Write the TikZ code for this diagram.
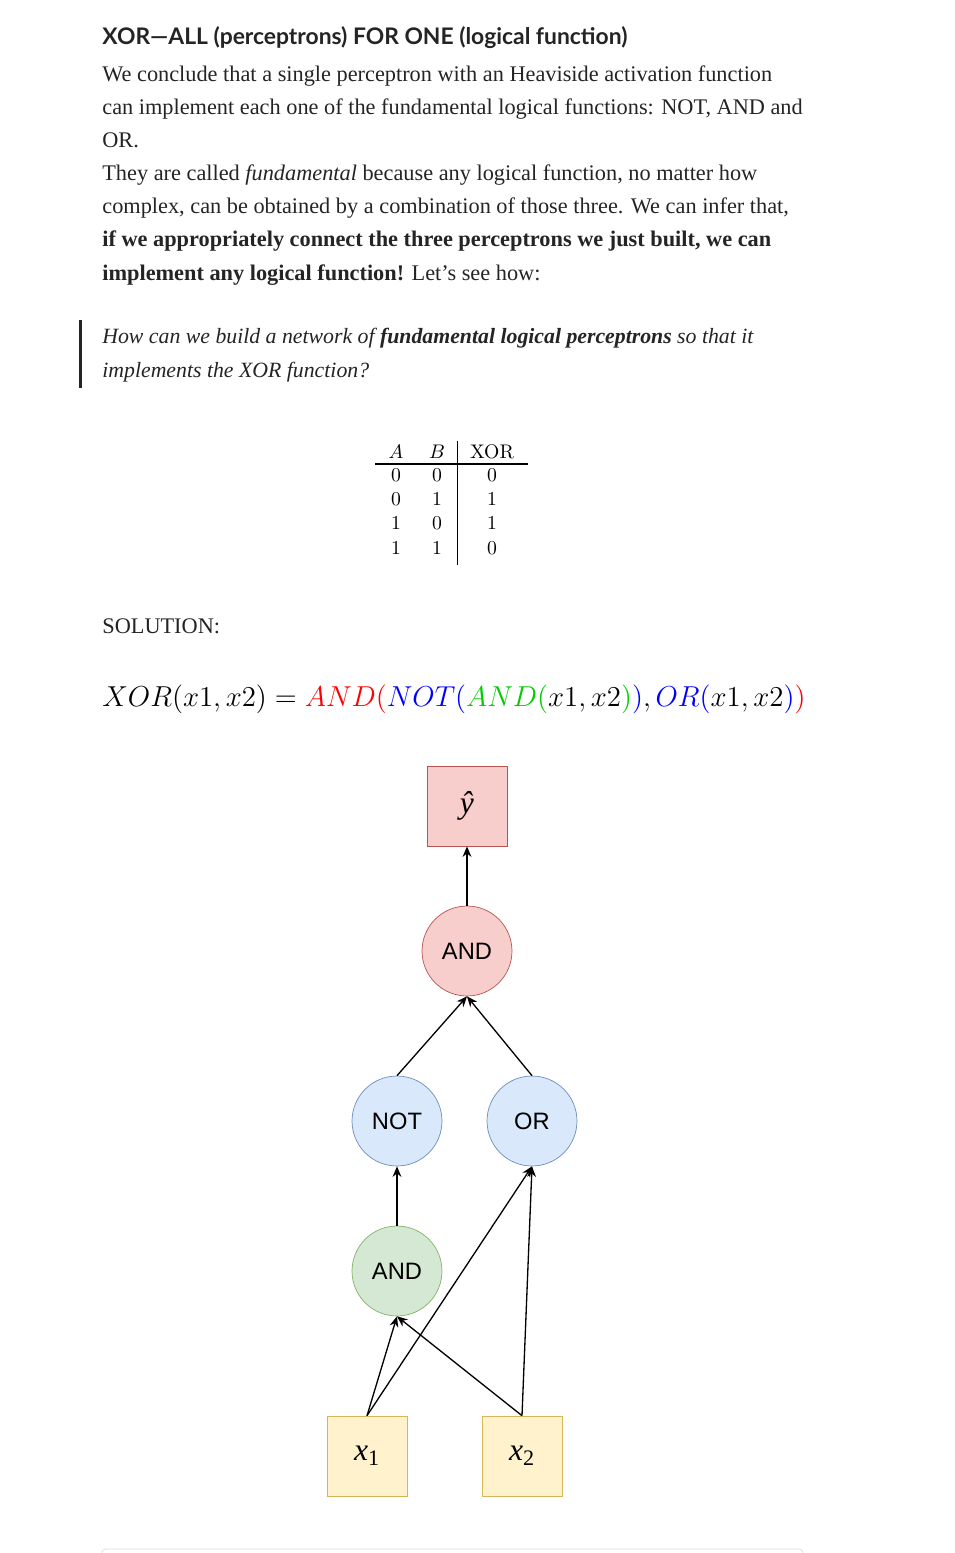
\RequirePackage{fix-cm}
\documentclass[tikz,border=0pt]{standalone}
\usepackage[no-math]{fontspec}
\setmainfont{Liberation Serif}
\newfontfamily\diagfont{Liberation Sans}
\newfontfamily\titlefont{Lato}
\usepackage{graphicx,xcolor}
\usepackage{tikz}
\usetikzlibrary{arrows.meta}

\definecolor{ink}{HTML}{242424}
\definecolor{eqred}{HTML}{FF0000}
\definecolor{eqblue}{HTML}{0000FF}
\definecolor{eqgreen}{HTML}{00CC00}
\definecolor{redfill}{HTML}{F8CECC}
\definecolor{redline}{HTML}{B85450}
\definecolor{bluefill}{HTML}{DAE8FC}
\definecolor{blueline}{HTML}{6C8EBF}
\definecolor{greenfill}{HTML}{D5E8D4}
\definecolor{greenline}{HTML}{82B366}
\definecolor{yellowfill}{HTML}{FFF2CC}
\definecolor{yellowline}{HTML}{D6B656}

\newcommand\bodysize{\fontsize{12.7}{15}\selectfont}

\tikzset{
    txt/.style={anchor=base west,inner sep=0pt,text=ink,font=\bodysize},
    cell/.style={anchor=base,inner sep=0pt,font=\fontsize{11.2}{13}\selectfont},
    perceptron/.style={circle,draw,minimum size=1.8cm,inner sep=0pt,font=\diagfont\fontsize{13.5}{16}\selectfont},
    value/.style={rectangle,draw,minimum size=1.6cm,inner sep=0pt,font=\fontsize{18}{21}\selectfont\itshape},
}

\begin{document}
\begin{tikzpicture}[x=0.02cm,y=-0.02cm,>={Stealth[length=6pt,width=5pt]}]
    \useasboundingbox (0,0) rectangle (955,1553);
    \node[txt,font=\titlefont\bfseries\fontsize{13}{15}\selectfont] (title) at (102,44) {XOR—ALL (perceptrons) FOR ONE (logical function)};
    \node[txt] (l1) at (102,81) {We conclude that a single perceptron with an Heaviside activation function};
    \node[txt] (l2) at (102,114) {can implement each one of the fundamental logical functions: NOT, AND and};
    \node[txt] (l3) at (102,147) {OR.};
    \node[txt] (l4) at (102,180) {They are called \textit{fundamental} because any logical function, no matter how};
    \node[txt] (l5) at (102,213) {complex, can be obtained by a combination of those three. We can infer that,};
    \node[txt] (l6) at (102,246) {\textbf{if we appropriately connect the three perceptrons we just built, we can}};
    \node[txt] (l7) at (102,280) {\textbf{implement any logical function!} Let’s see how:};

    \fill[ink] (79,320) rectangle (82,388);
    \node[txt,font=\fontsize{12.4}{15}\selectfont\itshape] (q1) at (102,343) {How can we build a network of \textbf{fundamental logical perceptrons} so that it};
    \node[txt,font=\fontsize{12.4}{15}\selectfont\itshape] (q2) at (102,377) {implements the XOR function?};

    \node[cell] (ha) at (396,458) {$A$};
    \node[cell] (hb) at (437,458) {$B$};
    \node[cell] (hx) at (492,458) {$\mathrm{XOR}$};
    \foreach \a/\b/\c [count=\i] in {0/0/0,0/1/1,1/0/1,1/1/0} {
        \node[cell] (a\i) at (396,{457+24.3*\i}) {$\a$};
        \node[cell] (b\i) at (437,{457+24.3*\i}) {$\b$};
        \node[cell] (c\i) at (492,{457+24.3*\i}) {$\c$};
    }
    \draw[line width=0.6pt] (375,464) -- (528,464);
    \draw[line width=0.6pt] (457.5,441) -- (457.5,565);

    \node[txt] (sol) at (102,633) {SOLUTION:};
    \node[txt,text=black,font=\fontsize{16.4}{19}\selectfont] (eq) at (102,706) {$XOR(x1,x2)=\textcolor{eqred}{AND(}\textcolor{eqblue}{NOT(}\textcolor{eqgreen}{AND(}x1,x2\textcolor{eqgreen}{)}\textcolor{eqblue}{)},\textcolor{eqblue}{OR(}x1,x2\textcolor{eqblue}{)}\textcolor{eqred}{)}$};

    \node[value,fill=redfill,draw=redline] (yhat) at (467,806) {ŷ};
    \node[perceptron,fill=redfill,draw=redline] (and2) at (467,951) {AND};
    \node[perceptron,fill=bluefill,draw=blueline] (not) at (397,1121) {NOT};
    \node[perceptron,fill=bluefill,draw=blueline] (or) at (532,1121) {OR};
    \node[perceptron,fill=greenfill,draw=greenline] (and1) at (397,1271) {AND};
    \node[value,fill=yellowfill,draw=yellowline] (x1) at (367,1456) {x\textsubscript{\upshape 1}};
    \node[value,fill=yellowfill,draw=yellowline] (x2) at (522,1456) {x\textsubscript{\upshape 2}};

    \draw[->,line width=0.75pt] (x1.north) -- (and1.south);
    \draw[->,line width=0.75pt] (x1.north) -- (or.south);
    \draw[->,line width=0.75pt] (x2.north) -- (and1.south);
    \draw[->,line width=0.75pt] (x2.north) -- (or.south);
    \draw[->,line width=0.75pt] (and1) -- (not);
    \draw[->,line width=0.75pt] (not.north) -- (and2.south);
    \draw[->,line width=0.75pt] (or.north) -- (and2.south);
    \draw[->,line width=0.75pt] (and2) -- (yhat);

    \draw[gray!30,rounded corners=2pt] (102,1580) -- (102,1549) -- (803,1549) -- (803,1580);
\end{tikzpicture}
\end{document}
